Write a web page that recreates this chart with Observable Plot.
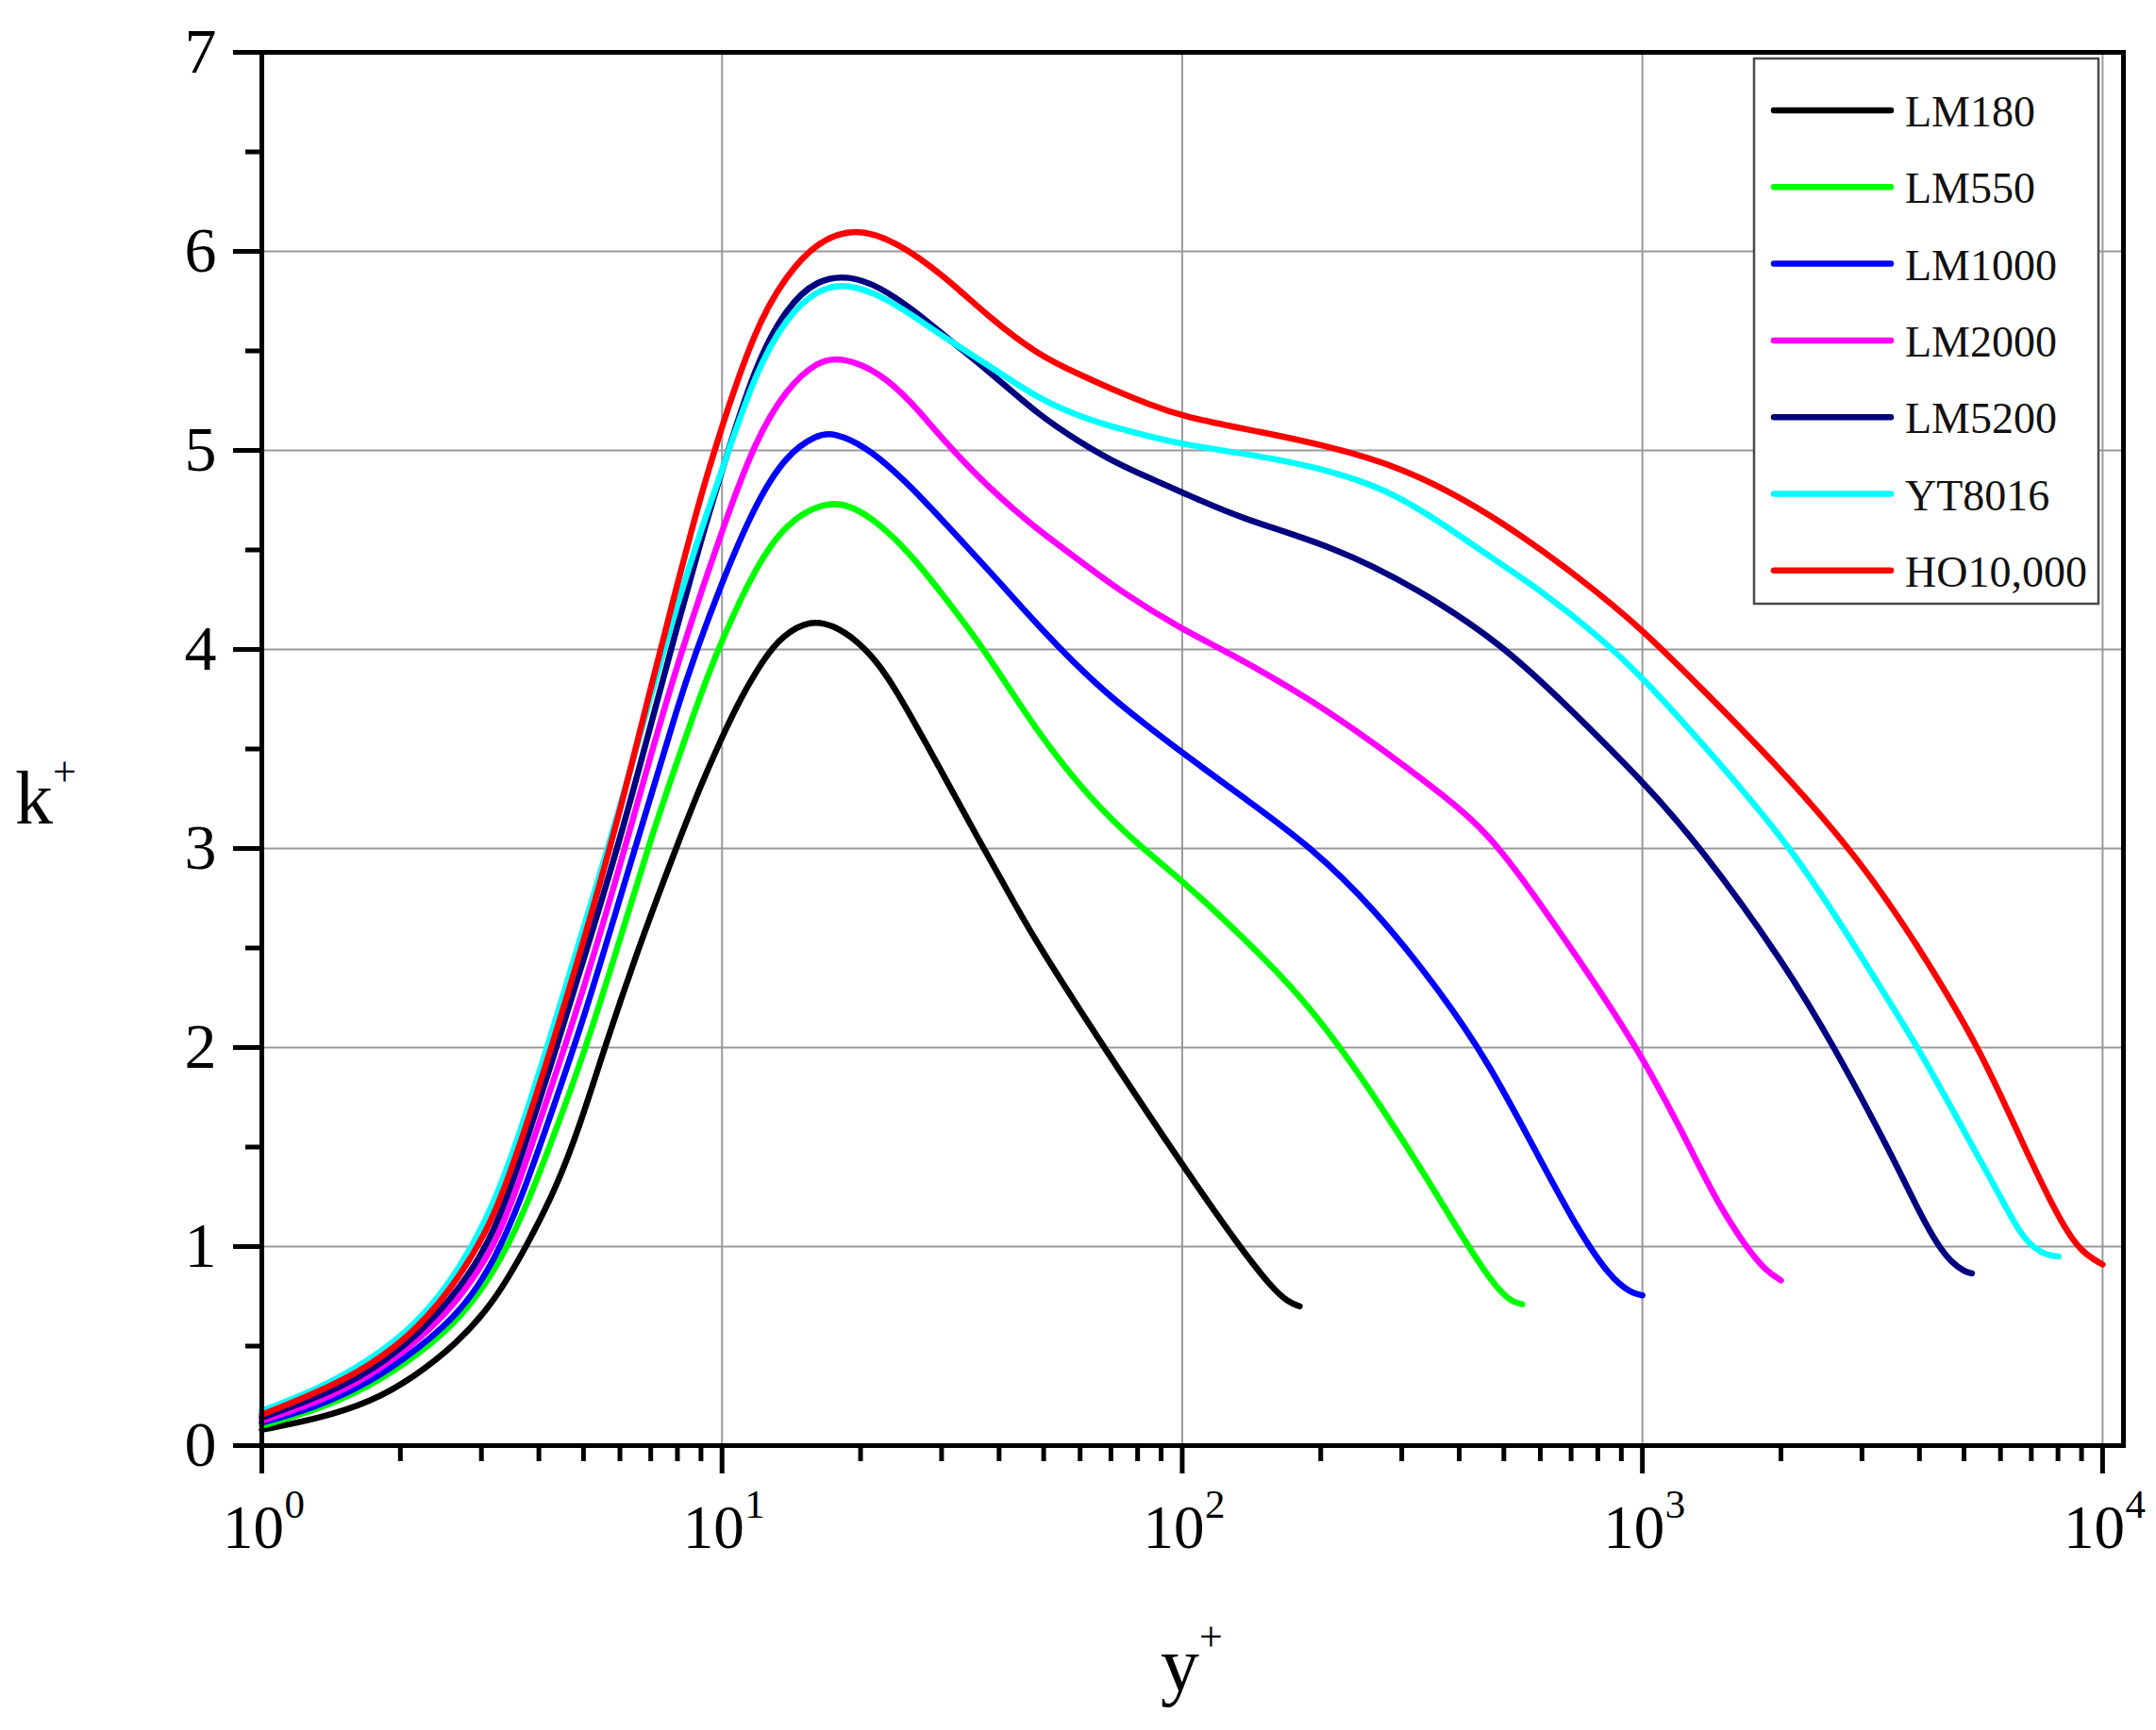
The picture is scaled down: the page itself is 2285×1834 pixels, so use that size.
<!DOCTYPE html>
<html>
<head>
<meta charset="utf-8">
<script src="https://cdn.jsdelivr.net/npm/d3@7"></script>
<script src="https://cdn.jsdelivr.net/npm/@observablehq/plot@0.6"></script>
<style>
  html, body { margin: 0; padding: 0; background: #fff; }
  #chart svg { display: block; }
</style>
</head>
<body>
<div id="chart"></div>
<script>
// ---- Data ----
const seriesNames  = ["LM180", "LM550", "LM1000", "LM2000", "LM5200", "YT8016", "HO10,000"];
const seriesColors = ["#000000", "#00ff00", "#0000ff", "#ff00ff", "#000080", "#00ffff", "#ff0000"];

const LM180_y = [1, 1.33, 1.73, 2.13, 2.65, 3.2, 3.8, 4.37, 4.9, 5.61, 6.7, 8, 9, 10, 11, 12.3, 13.5, 15.6, 17.5, 19.5, 21.5, 23.6, 29, 36, 43.8, 48.2, 67.6, 100, 133, 157, 170, 180];
const LM180_k = [0.08, 0.135, 0.22, 0.34, 0.51, 0.72, 1.02, 1.30, 1.60, 2.03, 2.55, 3.02, 3.32, 3.56, 3.76, 3.95, 4.07, 4.15, 4.12, 4.05, 3.95, 3.82, 3.45, 3.05, 2.70, 2.53, 2.0, 1.41, 1.0, 0.79, 0.72, 0.70];

const LM550_y = [1, 1.3, 1.7, 2.2, 2.7, 3.2, 3.7, 4.3, 5, 6, 7, 8, 9, 10, 11.8, 13.8, 16.7, 18.9, 22.1, 25.9, 30.3, 37.2, 48.2, 63, 80, 100, 139, 179, 221, 273, 337, 408, 462, 500, 525, 548];
const LM550_k = [0.10, 0.175, 0.29, 0.46, 0.64, 0.87, 1.16, 1.55, 1.96, 2.54, 3.05, 3.44, 3.78, 4.05, 4.41, 4.64, 4.74, 4.73, 4.63, 4.47, 4.27, 4.0, 3.59, 3.25, 3.02, 2.84, 2.53, 2.27, 2.0, 1.69, 1.36, 1.04, 0.85, 0.755, 0.72, 0.71];

const LM1000_y = [1, 1.3, 1.7, 2.2, 2.7, 3.2, 3.72, 4.3, 5, 6, 7, 8, 8.72, 10, 11.8, 13.8, 16.1, 17.5, 20.5, 23.9, 28, 35.5, 40, 48.6, 66, 100, 139, 190, 261, 359, 462, 583, 721, 854, 949, 1000];
const LM1000_k = [0.115, 0.19, 0.31, 0.49, 0.67, 0.92, 1.28, 1.70, 2.14, 2.75, 3.26, 3.71, 3.97, 4.34, 4.73, 4.98, 5.08, 5.09, 5.02, 4.89, 4.73, 4.47, 4.34, 4.12, 3.80, 3.48, 3.24, 3.01, 2.70, 2.30, 1.93, 1.49, 1.09, 0.84, 0.765, 0.755];

const LM2000_y = [1, 1.3, 1.7, 2.2, 2.7, 3.2, 3.56, 4.3, 5, 6, 7, 8.1, 10, 11.8, 13.8, 16.1, 18.3, 22.1, 25.9, 30.3, 38.4, 48.6, 59.6, 73.6, 100, 125, 190, 261, 359, 430, 493, 580, 676, 1000, 1324, 1459, 1675, 1850, 2000];
const LM2000_k = [0.125, 0.21, 0.34, 0.53, 0.74, 1.0, 1.27, 1.83, 2.29, 2.91, 3.47, 3.97, 4.6, 5.05, 5.31, 5.45, 5.47, 5.39, 5.24, 5.05, 4.80, 4.60, 4.45, 4.29, 4.10, 3.99, 3.75, 3.53, 3.29, 3.14, 2.99, 2.77, 2.55, 1.97, 1.41, 1.22, 1.0, 0.88, 0.83];

const LM5200_y = [1, 1.3, 1.7, 2.2, 2.7, 3.2, 3.7, 4.3, 5, 6, 7, 8, 9, 10, 11.8, 13.8, 16.1, 18.9, 22.1, 25.9, 30.3, 38.4, 48.6, 60, 70, 85, 100, 133, 212, 323, 493, 677, 1000, 1324, 2000, 2620, 3500, 4000, 4400, 4700, 5000, 5200];
const LM5200_k = [0.14, 0.235, 0.36, 0.56, 0.79, 1.06, 1.48, 1.95, 2.44, 3.04, 3.62, 4.12, 4.55, 4.9, 5.43, 5.72, 5.86, 5.88, 5.82, 5.71, 5.58, 5.39, 5.18, 5.04, 4.95, 4.86, 4.79, 4.66, 4.52, 4.31, 4.03, 3.73, 3.34, 3.02, 2.45, 2.0, 1.45, 1.17, 1.0, 0.92, 0.875, 0.865];

const YT8016_y = [1, 1.3, 1.7, 2.2, 2.7, 3.2, 3.7, 4.3, 5, 6, 7, 8, 9, 10, 11.8, 13.8, 16.1, 18.6, 22.1, 25.9, 30.3, 38.4, 48.6, 60, 70, 85, 100, 150, 200, 250, 300, 380, 450, 608, 800, 1000, 1324, 2130, 3000, 3980, 5000, 6000, 6600, 7100, 7600, 8016];
const YT8016_k = [0.175, 0.275, 0.42, 0.62, 0.89, 1.21, 1.62, 2.1, 2.6, 3.2, 3.77, 4.23, 4.6, 4.9, 5.39, 5.67, 5.81, 5.84, 5.78, 5.68, 5.57, 5.42, 5.26, 5.17, 5.12, 5.07, 5.03, 4.97, 4.91, 4.84, 4.76, 4.61, 4.49, 4.29, 4.07, 3.86, 3.55, 3.0, 2.45, 2.0, 1.58, 1.25, 1.07, 0.99, 0.955, 0.95];

const HO10000_y = [1, 1.3, 1.7, 2.2, 2.7, 3.2, 3.7, 4.3, 5, 6, 7, 8, 8.7, 9.6, 11.8, 13.8, 16.1, 19.5, 23.9, 30.3, 38.4, 48.6, 60, 70, 85, 100, 150, 200, 300, 472, 751, 1000, 1324, 2000, 3000, 4000, 5400, 6600, 8100, 9000, 10000];
const HO10000_k = [0.155, 0.26, 0.39, 0.59, 0.85, 1.14, 1.56, 2.03, 2.53, 3.18, 3.81, 4.33, 4.65, 5.0, 5.62, 5.88, 6.05, 6.12, 6.05, 5.88, 5.66, 5.48, 5.38, 5.31, 5.23, 5.17, 5.09, 5.03, 4.92, 4.68, 4.34, 4.10, 3.82, 3.40, 2.93, 2.50, 2.0, 1.55, 1.12, 0.97, 0.91];

// Axis tick values
const yMajorTicks = [0, 1, 2, 3, 4, 5, 6, 7];
const yMinorTicks = [0.5, 1.5, 2.5, 3.5, 4.5, 5.5, 6.5];
const xMajorTicks = [1, 10, 100, 1000, 10000];
const xMinorTicks = [2,3,4,5,6,7,8,9, 20,30,40,50,60,70,80,90, 200,300,400,500,600,700,800,900, 2000,3000,4000,5000,6000,7000,8000,9000];
const yGridTicks = [1, 2, 3, 4, 5, 6];
const xGridTicks = [10, 100, 1000, 10000];

// ---- Build table ----
const seriesX = [LM180_y, LM550_y, LM1000_y, LM2000_y, LM5200_y, YT8016_y, HO10000_y];
const seriesK = [LM180_k, LM550_k, LM1000_k, LM2000_k, LM5200_k, YT8016_k, HO10000_k];
const rows = [];
seriesNames.forEach((name, i) => {
  seriesX[i].forEach((x, j) => rows.push({ name, yplus: x, k: seriesK[i][j] }));
});

const FONT = "'Liberation Serif', 'DejaVu Serif', serif";
const W = 2285, H = 1834;

const chart = Plot.plot({
  width: W,
  height: H,
  marginLeft: 277,
  marginRight: 35,
  marginTop: 55,
  marginBottom: 302,
  style: { background: "#fff", fontFamily: FONT, color: "#000", overflow: "visible" },
  x: { type: "log", domain: [1, 11100], axis: null },
  y: { domain: [0, 7], axis: null },
  color: { domain: seriesNames, range: seriesColors },
  marks: [
    Plot.gridX(xGridTicks, { stroke: "#9a9a9a", strokeOpacity: 1, strokeWidth: 2 }),
    Plot.gridY(yGridTicks, { stroke: "#9a9a9a", strokeOpacity: 1, strokeWidth: 2 }),
    Plot.line(rows, {
      x: "yplus", y: "k", z: "name", stroke: "name",
      strokeWidth: 6.5, curve: "basis", strokeLinecap: "round", strokeLinejoin: "round"
    }),
    Plot.axisY({ ticks: yMajorTicks, anchor: "left", tickSize: 30, tickPadding: 18, strokeWidth: 5,
      tickFormat: d => String(d), fontSize: 68, fontFamily: FONT, label: null }),
    Plot.axisY({ ticks: yMinorTicks, anchor: "left", tickSize: 17, strokeWidth: 5,
      tickFormat: () => "", label: null }),
    Plot.axisX({ ticks: xMajorTicks, anchor: "bottom", tickSize: 30, strokeWidth: 5,
      tickFormat: () => "", label: null }),
    Plot.axisX({ ticks: xMinorTicks, anchor: "bottom", tickSize: 17, strokeWidth: 5,
      tickFormat: () => "", label: null }),
    Plot.text(xMajorTicks, { x: d => d, y: () => 0, text: () => "10", dx: -9, dy: 108,
      textAnchor: "middle", lineAnchor: "bottom", fontSize: 65, fontFamily: FONT, fill: "#000" }),
    Plot.text(xMajorTicks, { x: d => d, y: () => 0, text: d => String(Math.round(Math.log10(d))), dx: 24, dy: 76,
      textAnchor: "start", lineAnchor: "bottom", fontSize: 43, fontFamily: FONT, fill: "#000" }),
    Plot.frame({ stroke: "#000", strokeWidth: 5 })
  ]
});

document.getElementById("chart").appendChild(chart);

// ---- Legend and axis titles ----
const svg = d3.select(chart);
const lg = svg.append("g");
lg.append("rect")
  .attr("x", 1859).attr("y", 62).attr("width", 365).attr("height", 578)
  .attr("fill", "#fff").attr("stroke", "#4a4a4a").attr("stroke-width", 2.5);
seriesNames.forEach((name, i) => {
  const cy = 117 + i * 81.3;
  lg.append("line")
    .attr("x1", 1880).attr("x2", 2004).attr("y1", cy).attr("y2", cy)
    .attr("stroke", seriesColors[i]).attr("stroke-width", 6.5).attr("stroke-linecap", "round");
  lg.append("text")
    .attr("x", 2019).attr("y", cy + 17)
    .attr("text-anchor", "start")
    .attr("font-family", FONT).attr("font-size", 46).attr("fill", "#111")
    .text(name);
});

const kt = svg.append("text")
  .attr("x", 16).attr("y", 873)
  .attr("text-anchor", "start")
  .attr("font-family", FONT).attr("font-size", 80).attr("fill", "#000");
kt.append("tspan").text("k");
kt.append("tspan").attr("font-size", 44).attr("dy", -40).text("+");

const yt = svg.append("text")
  .attr("x", 1230).attr("y", 1792)
  .attr("text-anchor", "start")
  .attr("font-family", FONT).attr("font-size", 82).attr("fill", "#000");
yt.append("tspan").text("y");
yt.append("tspan").attr("font-size", 44).attr("dy", -42).text("+");
</script>
</body>
</html>
